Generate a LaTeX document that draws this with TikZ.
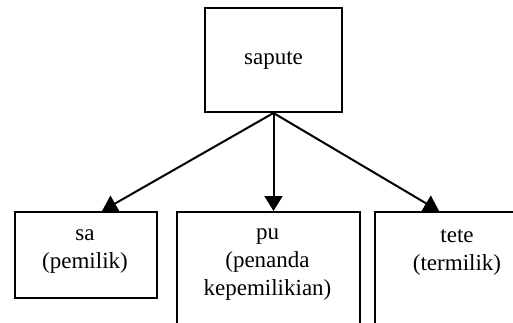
\documentclass[tikz,border=0pt]{standalone}
\usepackage{fontspec}
\setmainfont{Liberation Serif}
\usetikzlibrary{arrows.meta}

\begin{document}
\begin{tikzpicture}[x=1pt, y=-1pt, line width=2pt,
        main/.style = {draw, rectangle, anchor=north west, inner sep=0pt},
        word/.style = {align=center, anchor=north, inner sep=0pt, font=\fontsize{23}{28}\selectfont}]
            \useasboundingbox (0,0) rectangle (513,322);
            \clip (0,0) rectangle (513,322);

            \node[main, minimum width=137pt, minimum height=104pt, font=\fontsize{23}{28}\selectfont] (sapute) at (204,7) {sapute};
            \node[main, minimum width=142pt, minimum height=86pt] (sa) at (14,211) {};
            \node[main, minimum width=183pt, minimum height=130pt] (pu) at (176,211) {};
            \node[main, minimum width=170pt, minimum height=130pt] (tete) at (374,211) {};

            \node[word] (saText) at (85,229) {sa\\(pemilik)};
            \node[word] (puText) at (267.5,228) {pu\\(penanda\\kepemilikian)};
            \node[word] (teteText) at (457,229) {tete\\(termilik)};

            \path[-{Triangle[length=15pt,width=18pt]}] (sapute.south) edge ([xshift=16pt]sa.north);
            \path[-{Triangle[length=15pt,width=18pt]}] (sapute.south) edge (sapute.south |- pu.north);
            \path[-{Triangle[length=15pt,width=18pt]}] (sapute.south) edge ([xshift=-21pt]tete.north);

        \end{tikzpicture}
\end{document}
